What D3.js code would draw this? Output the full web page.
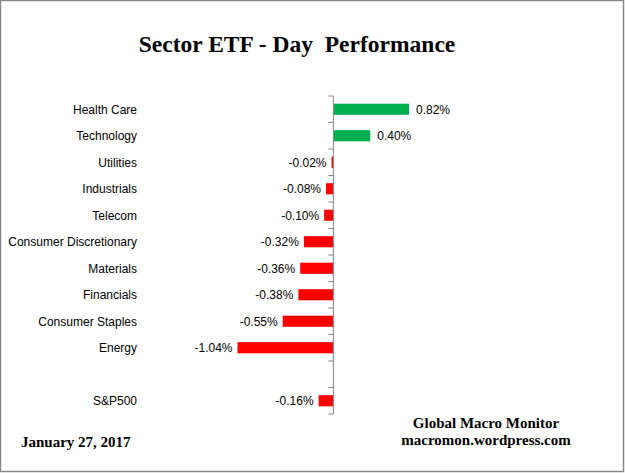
<!DOCTYPE html>
<html>
<head>
<meta charset="utf-8">
<script src="https://cdn.jsdelivr.net/npm/d3@7"></script>
<style>
  body { margin: 0; background: #fff; }
  svg text { font-family: "Liberation Sans", Arial, sans-serif; }
  .serif { font-family: "Liberation Serif", "Times New Roman", serif !important; font-weight: bold; }
</style>
</head>
<body>
<div id="chart"></div>
<script>
// sectors, top to bottom ("" is the empty gap row before the index)
var sectors = ["Health Care", "Technology", "Utilities", "Industrials", "Telecom",
  "Consumer Discretionary", "Materials", "Financials", "Consumer Staples", "Energy",
  "", "S&P500"];
var dayChange = [0.82, 0.40, -0.02, -0.08, -0.10, -0.32, -0.36, -0.38, -0.55, -1.04,
  null, -0.16];

var W = 625, H = 473;

var svg = d3.select("#chart").append("svg")
  .attr("width", W).attr("height", H);

svg.append("rect")
  .attr("x", 0.5).attr("y", 0.5)
  .attr("width", 623).attr("height", 471)
  .attr("fill", "#fff").attr("stroke", "#868686").attr("stroke-width", 1.5);

// x: percent -> px, zero line at x=333
var x = d3.scaleLinear().domain([-1.04, 0.82]).range([237.5, 409]);

var y = d3.scaleBand().domain(d3.range(sectors.length))
  .range([96, 414]).paddingInner(0.58).paddingOuter(0.29);

var rows = sectors.map(function(s, i) { return { name: s, v: dayChange[i], i: i }; });

svg.selectAll("rect.bar")
  .data(rows.filter(function(d) { return d.v != null; }))
  .enter().append("rect")
  .attr("class", "bar")
  .attr("x", function(d) { return x(Math.min(0, d.v)); })
  .attr("y", function(d) { return y(d.i); })
  .attr("width", function(d) { return Math.abs(x(d.v) - x(0)); })
  .attr("height", y.bandwidth())
  .attr("fill", function(d) { return d.v >= 0 ? "#00b050" : "#ff0000"; });

// vertical axis at zero with ticks between categories
var axisG = svg.append("g");
var step = (414 - 96) / sectors.length;
axisG.append("line")
  .attr("x1", x(0)).attr("x2", x(0))
  .attr("y1", 96).attr("y2", 414)
  .attr("stroke", "#868686");
axisG.selectAll("line.tick")
  .data(d3.range(sectors.length + 1))
  .enter().append("line")
  .attr("class", "tick")
  .attr("x1", x(0) - 5).attr("x2", x(0))
  .attr("y1", function(d) { return 96 + d * step; })
  .attr("y2", function(d) { return 96 + d * step; })
  .attr("stroke", "#868686");

var fmt = function(v) { return d3.format(".2f")(v).replace("\u2212", "-") + "%"; };

// category labels
svg.selectAll("text.cat")
  .data(rows)
  .enter().append("text")
  .attr("class", "cat")
  .attr("x", 137)
  .attr("y", function(d) { return y(d.i) + y.bandwidth() / 2 + 0.5; })
  .attr("dy", "0.35em")
  .attr("text-anchor", "end")
  .style("font-size", "12px")
  .text(function(d) { return d.name; });

// value labels
svg.selectAll("text.val")
  .data(rows.filter(function(d) { return d.v != null; }))
  .enter().append("text")
  .attr("class", "val")
  .attr("x", function(d) { return d.v >= 0 ? x(d.v) + 7 : x(d.v) - 5; })
  .attr("y", function(d) { return y(d.i) + y.bandwidth() / 2 + 0.5; })
  .attr("dy", "0.35em")
  .attr("text-anchor", function(d) { return d.v >= 0 ? "start" : "end"; })
  .style("font-size", "12px")
  .text(function(d) { return fmt(d.v); });

svg.append("text").attr("class", "serif")
  .attr("x", 297).attr("y", 52)
  .attr("text-anchor", "middle")
  .style("font-size", "23.5px")
  .style("white-space", "pre")
  .attr("xml:space", "preserve")
  .text("Sector ETF - Day  Performance");

svg.append("text").attr("class", "serif")
  .attr("x", 486).attr("y", 428)
  .attr("text-anchor", "middle").style("font-size", "15px")
  .text("Global Macro Monitor");
svg.append("text").attr("class", "serif")
  .attr("x", 486).attr("y", 445)
  .attr("text-anchor", "middle").style("font-size", "15px")
  .text("macromon.wordpress.com");

svg.append("text").attr("class", "serif")
  .attr("x", 21).attr("y", 447)
  .style("font-size", "15px")
  .text("January 27, 2017");
</script>
</body>
</html>
